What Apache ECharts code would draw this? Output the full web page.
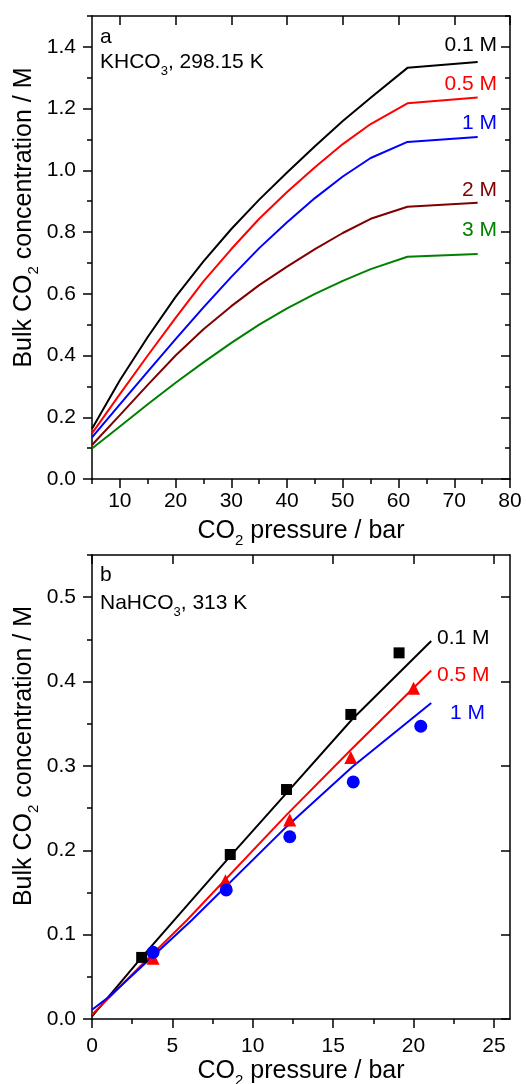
<!DOCTYPE html>
<html>
<head>
<meta charset="utf-8">
<script src="https://cdn.jsdelivr.net/npm/echarts@6/dist/echarts.min.js"></script>
<style>
  html, body { margin: 0; padding: 0; background: #fff; }
  #chart { width: 526px; height: 1084px; }
</style>
</head>
<body>
<div id="chart"></div>
<script>
// panel a — KHCO3, 298.15 K : [CO2 pressure / bar, bulk CO2 / M]
const khco3_01M = [[5, 0.163], [10, 0.32], [15, 0.46], [20, 0.59], [25, 0.705], [30, 0.81], [35, 0.905], [40, 0.993], [45, 1.078], [50, 1.16], [55, 1.235], [61.6, 1.332], [74.2, 1.351]]
const khco3_05M = [[5, 0.148], [10, 0.275], [15, 0.4], [20, 0.522], [25, 0.64], [30, 0.745], [35, 0.843], [40, 0.93], [45, 1.01], [50, 1.085], [55, 1.15], [61.6, 1.217], [74.2, 1.236]]
const khco3_1M = [[5, 0.135], [10, 0.242], [15, 0.348], [20, 0.453], [25, 0.556], [30, 0.655], [35, 0.748], [40, 0.832], [45, 0.91], [50, 0.98], [55, 1.04], [61.6, 1.092], [74.2, 1.108]]
const khco3_2M = [[5, 0.11], [10, 0.207], [15, 0.305], [20, 0.4], [25, 0.485], [30, 0.56], [35, 0.628], [40, 0.688], [45, 0.745], [50, 0.797], [55, 0.843], [61.6, 0.882], [74.2, 0.895]]
const khco3_3M = [[5, 0.099], [10, 0.17], [15, 0.242], [20, 0.312], [25, 0.378], [30, 0.441], [35, 0.5], [40, 0.553], [45, 0.6], [50, 0.642], [55, 0.68], [61.6, 0.72], [74.2, 0.729]]

// panel b — NaHCO3, 313 K : model lines and measured points
const nahco3Line_01M = [[0, 0.003], [3.09, 0.073], [5.47, 0.125], [8.6, 0.193], [12.11, 0.268], [16.17, 0.355], [21.1, 0.448]]
const nahco3Line_05M = [[0, 0.005], [3.5, 0.072], [5.9, 0.117], [12.1, 0.242], [16.2, 0.321], [21.1, 0.413]]
const nahco3Line_1M = [[0, 0.011], [1.1, 0.027], [6.2, 0.117], [12.1, 0.228], [16.2, 0.299], [21.1, 0.3745]]
const nahco3Exp_01M = [[3.09, 0.073], [8.6, 0.195], [12.1, 0.272], [16.1, 0.361], [19.1, 0.434]]
const nahco3Exp_05M = [[3.8, 0.072], [8.3, 0.164], [12.3, 0.236], [16.1, 0.31], [20.0, 0.392]]
const nahco3Exp_1M = [[3.8, 0.079], [8.35, 0.153], [12.3, 0.216], [16.25, 0.281], [20.45, 0.347]]

// ticks
const aPressureLabels = [10, 20, 30, 40, 50, 60, 70, 80]
const aPressureMinor = [5, 10, 15, 20, 25, 30, 35, 40, 45, 50, 55, 60, 65, 70, 75, 80]
const aConcLabels = [0, 0.2, 0.4, 0.6, 0.8, 1.0, 1.2, 1.4]
const aConcMinor = [0, 0.1, 0.2, 0.3, 0.4, 0.5, 0.6, 0.7, 0.8, 0.9, 1.0, 1.1, 1.2, 1.3, 1.4, 1.5]
const bPressureLabels = [0, 5, 10, 15, 20, 25]
const bPressureMinor = [0, 2.5, 5, 7.5, 10, 12.5, 15, 17.5, 20, 22.5, 25]
const bConcLabels = [0, 0.1, 0.2, 0.3, 0.4, 0.5]
const bConcMinor = [0, 0.05, 0.1, 0.15, 0.2, 0.25, 0.3, 0.35, 0.4, 0.45, 0.5, 0.55]

const FONT = 'Liberation Sans, Arial, Helvetica, sans-serif'
const INK = '#000'
const frame = { color: INK, width: 1.5 }

// Origin-style frame: long labelled ticks outside, short ticks, mirrored ticks inside on the far sides
function frameAxes(dim, grid, min, max, labels, minor, margin, fmt) {
  const near = dim === 'x' ? 'bottom' : 'left'
  const far = dim === 'x' ? 'top' : 'right'
  const base = {
    type: 'value', gridIndex: grid, min, max,
    splitLine: { show: false },
    axisLine: { onZero: false, lineStyle: frame }
  }
  const noLabel = { show: false }
  return [
    {
      ...base, position: near,
      axisTick: { customValues: labels, length: 9, lineStyle: frame },
      axisLabel: { customValues: labels, margin, formatter: fmt, color: INK, fontSize: 21, fontFamily: FONT }
    },
    { ...base, position: near, axisLine: { show: false }, axisTick: { customValues: minor, length: 5, lineStyle: frame }, axisLabel: noLabel },
    { ...base, position: far, axisTick: { customValues: labels, inside: true, length: 9, lineStyle: frame }, axisLabel: noLabel },
    { ...base, position: far, axisLine: { show: false }, axisTick: { customValues: minor, inside: true, length: 5, lineStyle: frame }, axisLabel: noLabel }
  ]
}

const intFmt = (v) => v.toFixed(0)
const oneDec = (v) => v.toFixed(1)

function curve(name, data, color, axis) {
  return {
    name, type: 'line', data, xAxisIndex: axis, yAxisIndex: axis,
    showSymbol: false, symbol: 'none', smooth: false,
    lineStyle: { width: 2, color, join: 'round' }, z: 2
  }
}
function points(name, data, color, symbol, size) {
  return {
    name, type: 'scatter', data, xAxisIndex: 4, yAxisIndex: 4,
    symbol, symbolSize: size, itemStyle: { color, opacity: 1 }, z: 3
  }
}

// text with a subscript, e.g. CO{s|2}
const rich = {
  n: { fontSize: 21, lineHeight: 30, fontFamily: FONT, fill: INK },
  s: { fontSize: 13, lineHeight: 13, verticalAlign: 'bottom', fontFamily: FONT, fill: INK }
}
const richBig = {
  n: { fontSize: 25, lineHeight: 34, fontFamily: FONT, fill: INK },
  s: { fontSize: 15, lineHeight: 15, verticalAlign: 'bottom', fontFamily: FONT, fill: INK }
}
function txt(x, y, text, opts = {}) {
  return {
    type: 'text', x, y, rotation: opts.rotation || 0, silent: true,
    style: {
      text, rich: opts.rich, fill: opts.color || INK,
      font: `${opts.size || 21}px ${FONT}`,
      align: opts.align || 'left', verticalAlign: 'middle'
    }
  }
}

const chart = echarts.init(document.getElementById('chart'), null, { renderer: 'canvas' })

chart.setOption({
  animation: false,
  backgroundColor: '#fff',
  textStyle: { fontFamily: FONT },
  grid: [
    { left: 92, top: 16, width: 418, height: 463 },
    { left: 92, top: 555, width: 418, height: 464 }
  ],
  xAxis: [
    ...frameAxes('x', 0, 5, 80, aPressureLabels, aPressureMinor, 12, intFmt),
    ...frameAxes('x', 1, 0, 26, bPressureLabels, bPressureMinor, 17, intFmt)
  ],
  yAxis: [
    ...frameAxes('y', 0, 0, 1.5, aConcLabels, aConcMinor, 16, oneDec),
    ...frameAxes('y', 1, 0, 0.55, bConcLabels, bConcMinor, 16, oneDec)
  ],
  series: [
    curve('0.1 M', khco3_01M, '#000000', 0),
    curve('0.5 M', khco3_05M, '#ff0000', 0),
    curve('1 M', khco3_1M, '#0000ff', 0),
    curve('2 M', khco3_2M, '#800000', 0),
    curve('3 M', khco3_3M, '#008000', 0),
    curve('0.1 M model', nahco3Line_01M, '#000000', 4),
    curve('0.5 M model', nahco3Line_05M, '#ff0000', 4),
    curve('1 M model', nahco3Line_1M, '#0000ff', 4),
    points('0.1 M exp', nahco3Exp_01M, '#000000', 'rect', 11),
    points('0.5 M exp', nahco3Exp_05M, '#ff0000', 'triangle', 13),
    points('1 M exp', nahco3Exp_1M, '#0000ff', 'circle', 13)
  ],
  graphic: [
    // panel a
    txt(100, 37, 'a'),
    txt(100, 62.5, '{n|KHCO}{s|3}{n|, 298.15 K}', { rich }),
    txt(497, 45.5, '0.1 M', { align: 'right' }),
    txt(497, 84.5, '0.5 M', { align: 'right', color: '#ff0000' }),
    txt(497, 123.5, '1 M', { align: 'right', color: '#0000ff' }),
    txt(497, 190.5, '2 M', { align: 'right', color: '#800000' }),
    txt(497, 230.5, '3 M', { align: 'right', color: '#008000' }),
    txt(301, 531, '{n|CO}{s|2}{n| pressure / bar}', { rich: richBig, align: 'center' }),
    txt(24, 217.5, '{n|Bulk CO}{s|2}{n| concentration / M}', { rich: richBig, align: 'center', rotation: Math.PI / 2 }),
    // panel b
    txt(100, 575, 'b'),
    txt(100, 603.5, '{n|NaHCO}{s|3}{n|, 313 K}', { rich }),
    txt(437, 638.5, '0.1 M'),
    txt(437, 675, '0.5 M', { color: '#ff0000' }),
    txt(450, 713.5, '1 M', { color: '#0000ff' }),
    txt(301, 1071, '{n|CO}{s|2}{n| pressure / bar}', { rich: richBig, align: 'center' }),
    txt(24, 756, '{n|Bulk CO}{s|2}{n| concentration / M}', { rich: richBig, align: 'center', rotation: Math.PI / 2 })
  ]
})
</script>
</body>
</html>
